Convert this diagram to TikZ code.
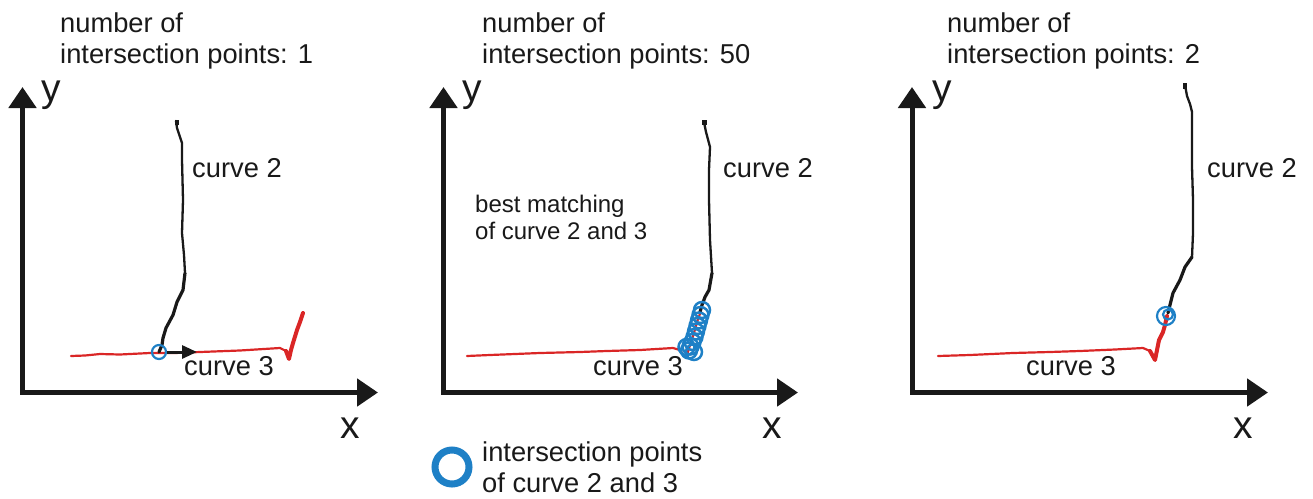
\documentclass[tikz,border=0pt]{standalone}
\usepackage{fontspec}
\setmainfont{Liberation Sans}
\usetikzlibrary{arrows.meta}
\definecolor{cred}{RGB}{218,38,38}
\definecolor{cblue}{RGB}{30,128,198}
\definecolor{ink}{RGB}{25,25,25}
\tikzset{
  axisline/.style={draw=ink, line width=5pt, line join=miter,
    {Triangle[length=21pt,width=27pt]}-{Triangle[length=21pt,width=27pt]}},
  ctwo/.style={draw=ink, line width=2.3pt, line join=round, line cap=round},
  ctwob/.style={draw=ink, line width=3.2pt, line join=round, line cap=round},
  cthree/.style={draw=cred, line width=2.2pt, line join=round, line cap=round},
  hook/.style={draw=cred, line width=4pt, line join=round, line cap=round},
  ipt/.style={circle, draw=cblue, line width=2.2pt, minimum size=14pt, inner sep=0pt},
  lbl/.style={font=\fontsize{27.3}{31}\selectfont, text=ink, inner sep=0pt, align=left},
  small/.style={font=\fontsize{24}{27}\selectfont, text=ink, inner sep=0pt, align=left},
  axl/.style={font=\fontsize{39}{39}\selectfont, text=ink, inner sep=0pt},
  endsq/.style={fill=ink}
}
\begin{document}
\begin{tikzpicture}[x=1pt,y=-1pt]
\useasboundingbox (0,0) rectangle (1313,498);

% ---------------- Panel 1 ----------------
\node[lbl, anchor=north west] (t1) at (60,13) {number of\\intersection points: 1};
\coordinate (O1) at (22.5,392.5);
\coordinate (Y1) at (22.5,87);
\coordinate (X1) at (378,392.5);
\draw[axisline] (Y1) -- (O1) -- (X1);
\node[axl, anchor=base west] (y1) at (41,101) {y};
\node[axl, anchor=base west] (x1) at (340,438) {x};
\node[lbl, anchor=base west] (c2a) at (192,177) {curve 2};
\node[lbl, anchor=base west] (c3a) at (184,375) {curve 3};

\draw[cthree] (71,356) -- (85,355.5) -- (100,354) -- (120,354.5) -- (150,353) -- (175,353)
  -- (200,352) -- (240,350.5) -- (280,348) -- (286,351);
\draw[hook] (286,351) -- (289,359) -- (291,350) -- (293,343) -- (297,330) -- (300,322) -- (303,313);
\fill[endsq] (174.5,119.5) rectangle (179,125);
\draw[ctwo] (176,121) -- (177,128) -- (182,143) -- (182,160) -- (183,200) -- (182,233)
  -- (184,255) -- (185,273);
\draw[ctwob] (185,273) -- (183,290) -- (177,302) -- (173,315) -- (166,328) -- (163,338)
  -- (162,345) -- (159,352);
\node[ipt] (i1) at (159,352) {};
\coordinate (a1) at (197,352);
\draw[draw=ink, line width=3pt, -{Triangle[length=15pt,width=13pt]}] (i1.east) -- (a1);

% ---------------- Panel 2 ----------------
\node[lbl, anchor=north west] (t2) at (482,13) {number of\\intersection points: 50};
\coordinate (O2) at (443.5,392.5);
\coordinate (Y2) at (443.5,87);
\coordinate (X2) at (798,392.5);
\draw[axisline] (Y2) -- (O2) -- (X2);
\node[axl, anchor=base west] (y2) at (462,101) {y};
\node[axl, anchor=base west] (x2) at (762,438) {x};
\node[lbl, anchor=base west] (c2b) at (723,177) {curve 2};
\node[lbl, anchor=base west] (c3b) at (593,375) {curve 3};
\node[small, anchor=north west] (best) at (475,194.5) {best matching\\of curve 2 and 3};

\draw[cthree] (467,356) -- (490,355) -- (540,353) -- (580,352) -- (607,351) -- (640,350)
  -- (673,348) -- (680,350) -- (684,356) -- (687,355) -- (690,345) -- (694,333)
  -- (697,322) -- (701,311);
\fill[endsq] (702,119.5) rectangle (706.5,125);
\draw[ctwo] (704,122) -- (706,132) -- (710,147) -- (709,170) -- (709,200) -- (710,240) -- (712,273);
\draw[ctwob] (712,273) -- (709,290) -- (705,297) -- (702,305) -- (700,312);
\foreach \p/\q [count=\k] in {702/310, 700.5/315, 699/320.5, 697.5/326, 696/331.5, 694.5/337,
    692.5/342, 690.5/346.5, 689/350.5, 694/352, 686.5/347}
  \node[ipt, minimum size=16pt, line width=2.5pt] (m\k) at (\p,\q) {};

% legend
\node[circle, draw=cblue, line width=7pt, minimum size=34pt, inner sep=0pt] (leg) at (452,467) {};
\node[lbl, anchor=north west] (legt) at (482,442) {intersection points\\of curve 2 and 3};

% ---------------- Panel 3 ----------------
\node[lbl, anchor=north west] (t3) at (947,13) {number of\\intersection points: 2};
\coordinate (O3) at (912,392.5);
\coordinate (Y3) at (912,87);
\coordinate (X3) at (1268,392.5);
\draw[axisline] (Y3) -- (O3) -- (X3);
\node[axl, anchor=base west] (y3) at (932,101) {y};
\node[axl, anchor=base west] (x3) at (1233,438) {x};
\node[lbl, anchor=base west] (c2c) at (1207,177) {curve 2};
\node[lbl, anchor=base west] (c3c) at (1026,375) {curve 3};

\draw[cthree] (938,356) -- (970,355) -- (1013,353) -- (1050,352) -- (1080,351) -- (1115,349.5)
  -- (1143,348) -- (1150,351);
\draw[hook] (1150,351) -- (1155,360) -- (1157,350) -- (1159,340) -- (1163,332) -- (1165,325) -- (1167,316);
\fill[endsq] (1182.5,83) rectangle (1187,88.5);
\draw[ctwo] (1185,85) -- (1187,96) -- (1190,104) -- (1192,112) -- (1192,140) -- (1192,167)
  -- (1193,200) -- (1193,233) -- (1192,257);
\draw[ctwob] (1192,257) -- (1185,267) -- (1180,280) -- (1173,293) -- (1170,305) -- (1168,313);
\node[ipt, minimum size=18pt] (n1) at (1166,316) {};
\node[ipt, minimum size=10pt] (n2) at (1168,314.5) {};
\end{tikzpicture}
\end{document}
